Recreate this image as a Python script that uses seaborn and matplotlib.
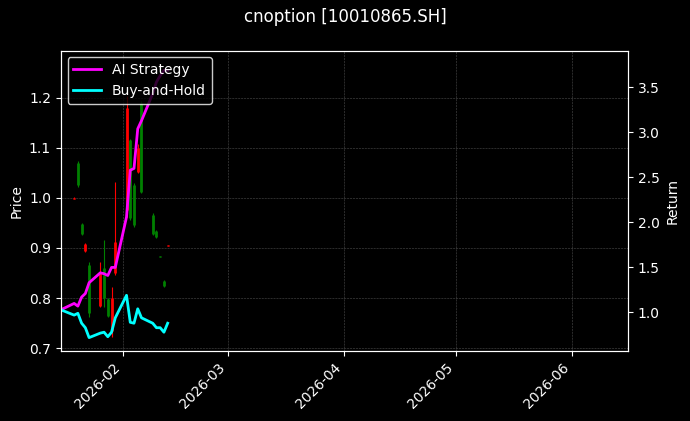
import pandas as pd
import seaborn as sns
import matplotlib.pyplot as plt
import matplotlib.dates as mdates

# trading days and OHLC
dates = ["2026-01-16", "2026-01-19", "2026-01-20", "2026-01-21", "2026-01-22", "2026-01-23",
         "2026-01-26", "2026-01-27", "2026-01-28", "2026-01-29", "2026-01-30",
         "2026-02-02", "2026-02-03", "2026-02-04", "2026-02-05", "2026-02-06",
         "2026-02-09", "2026-02-10", "2026-02-11", "2026-02-12", "2026-02-13"]
opens = [1.000, 0.997, 1.070, 0.947, 0.893, 0.865, 0.785, 0.860, 0.798, 0.735, 0.850,
         0.975, 1.115, 1.025, 1.052, 1.190, 0.965, 0.933, 0.884, 0.834, 0.904]
highs = [1.000, 1.001, 1.074, 0.949, 0.909, 0.871, 0.871, 0.915, 0.800, 0.822, 1.031,
         1.204, 1.118, 1.029, 1.108, 1.194, 0.969, 0.935, 0.884, 0.835, 0.906]
lows = [1.000, 0.997, 1.021, 0.925, 0.891, 0.762, 0.782, 0.782, 0.762, 0.722, 0.845,
        0.961, 0.955, 0.941, 1.049, 1.009, 0.925, 0.919, 0.882, 0.822, 0.904]
closes = [1.000, 1.000, 1.025, 0.928, 0.907, 0.770, 0.850, 0.800, 0.765, 0.800, 0.911,
          1.180, 0.960, 0.945, 1.100, 1.012, 0.928, 0.921, 0.882, 0.823, 0.906]
ai_return = [1.04, 1.10, 1.07, 1.17, 1.21, 1.33, 1.44, 1.43, 1.41, 1.50, 1.50,
             2.06, 2.58, 2.60, 3.04, 3.13, 3.43, 3.56, 3.63, 3.69, 3.69]
bh_return = [1.02, 0.97, 0.99, 0.88, 0.83, 0.72, 0.77, 0.78, 0.73, 0.78, 0.94,
             1.19, 0.89, 0.88, 1.04, 0.94, 0.88, 0.83, 0.83, 0.78, 0.88]

df = pd.DataFrame({"date": pd.to_datetime(dates), "open": opens, "high": highs,
                   "low": lows, "close": closes, "ai": ai_return, "bh": bh_return})

plt.style.use("dark_background")
fig, ax = plt.subplots(figsize=(6.9, 4.21), dpi=100)
fig.subplots_adjust(left=0.088, right=0.91, top=0.88, bottom=0.166)

# candles: red up, green down
colors = ["red" if c >= o else "green" for o, c in zip(df["open"], df["close"])]
ax.vlines(df["date"], df["low"], df["high"], colors=colors, linewidth=0.8)
ax.vlines(df["date"], df[["open", "close"]].min(axis=1), df[["open", "close"]].max(axis=1),
          colors=colors, linewidth=2)
ax.set_ylabel("Price")
ax.set_ylim(0.694, 1.294)
ax.grid(True, linestyle="--", linewidth=0.4, color="gray", alpha=0.6)

ax2 = ax.twinx()
sns.lineplot(data=df, x="date", y="ai", ax=ax2, color="magenta", linewidth=2, label="AI Strategy")
sns.lineplot(data=df, x="date", y="bh", ax=ax2, color="cyan", linewidth=2, label="Buy-and-Hold")
ax2.set_ylabel("Return")
ax2.set_xlabel("")
ax2.set_ylim(0.57, 3.91)
ax2.legend(loc="upper left", edgecolor="white", facecolor="black", framealpha=0.8)

ax.set_xlim(pd.Timestamp("2026-01-15 10:00"), pd.Timestamp("2026-06-16 00:00"))
ax.xaxis.set_major_locator(mdates.MonthLocator())
ax.xaxis.set_major_formatter(mdates.DateFormatter("%Y-%m"))
plt.setp(ax.get_xticklabels(), rotation=45, ha="right")

fig.suptitle("cnoption [10010865.SH]")
plt.savefig("out.png", dpi=100)
